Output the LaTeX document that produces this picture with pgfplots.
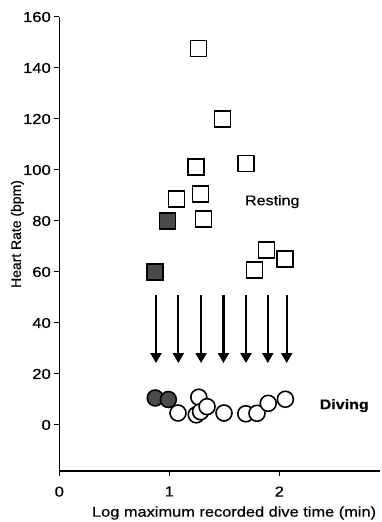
\documentclass[border=0pt]{standalone}
\usepackage{pgfplots}
\pgfplotsset{compat=1.18}
\usepackage{fontspec}
\setmainfont[FakeStretch=1.15, FakeBold=0.5]{Liberation Sans}
\newfontfamily\yfont[FakeBold=0.5]{Liberation Sans}
\usetikzlibrary{arrows.meta}
\definecolor{darkfill}{HTML}{4a4a4a}
\begin{document}
\begin{tikzpicture}
\begin{axis}[
  scale only axis, width=320.7bp, height=454bp,
  xmin=0, xmax=2.915, ymin=-18.04, ymax=160,
  axis x line*=bottom, axis y line*=left,
  axis line style={-, line width=1.3pt, black},
  xtick={0,1,2}, ytick={0,20,...,160},
  tick align=outside, major tick length=5bp,
  tick style={black, line width=1pt},
  /pgf/number format/assume math mode=true,
  ticklabel style={font=\fontsize{14.5}{16}\selectfont},
  xticklabel style={yshift=-7bp},
  xlabel={Log maximum recorded dive time (min)},
  ylabel={Heart Rate (bpm)},
  every axis x label/.style={at={(axis description cs:0.545,-0.0925)}, anchor=center, font=\fontsize{14.3}{16}\selectfont},
  every axis y label/.style={at={(axis description cs:-0.131,0.522)}, anchor=center, rotate=90, font=\yfont\fontsize{14}{16}\selectfont},
  clip=false,
]
% arrows
\addplot[quiver={u=0, v=\thisrow{v}}, -{Triangle[length=10bp,width=11bp]}, line width=2.2bp, black] table {
x y v
0.879 51 -26.7
1.082 51 -26.7
1.289 51 -26.7
1.492 51 -26.7
1.697 51 -26.7
1.895 51 -26.7
2.067 51 -26.7
};
% resting, open squares
\addplot[only marks, mark=square*, mark size=8bp, mark options={fill=white, draw=black, line width=1.6pt}] coordinates {
(1.264,147.7) (1.482,120.0) (1.245,101.1) (1.697,102.6) (1.067,88.7) (1.282,90.5) (1.309,80.7) (1.885,68.6) (2.052,65.2) (1.773,60.8)
};
% resting, filled squares
\addplot[only marks, mark=square*, mark size=8bp, mark options={fill=darkfill, draw=black, line width=1.6pt}] coordinates {
(0.982,80.0) (0.870,59.9)
};
% diving, filled circles
\addplot[only marks, mark=*, mark size=8bp, mark options={fill=darkfill, draw=black, line width=1.6pt}] coordinates {
(0.872,10.6) (0.991,10.0)
};
% diving, open circles
\addplot[only marks, mark=*, mark size=8bp, mark options={fill=white, draw=black, line width=1.6pt}] coordinates {
(1.079,4.7) (1.268,10.9) (1.245,4.0) (1.284,5.2) (1.343,7.2) (1.497,4.7) (1.695,4.4) (1.797,4.6) (1.899,8.5) (2.055,10.1)
};
\node[font=\fontsize{14}{16}\selectfont] at (axis cs:1.936,87.6) {Resting};
\node[font=\fontsize{14}{16}\selectfont\bfseries] at (axis cs:2.59,7.6) {Diving};
\end{axis}
\pgfresetboundingbox
\path (current axis.south west) ++(-59.3bp,-51bp) coordinate (bbA);
\path (current axis.north east) ++(2bp,17bp) coordinate (bbB);
\path[use as bounding box] (bbA) rectangle (bbB);
\end{tikzpicture}
\end{document}
